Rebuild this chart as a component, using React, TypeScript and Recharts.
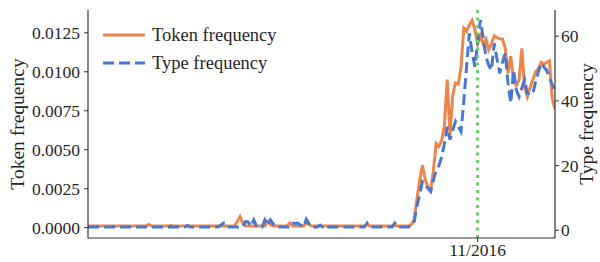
import React from "react";
import { LineChart, Line, XAxis, YAxis, ReferenceLine } from "recharts";

// ---- data ----
// weekly index positions (0..169)
const tokenFlat: number[] = [
  0.0001, 0.0001, 0.0001, 0.0001, 0.0001, 0.0001, 0.0001, 0.0001, 0.0001, 0.0001,
  0.0001, 0.0001, 0.0001, 0.0001, 0.0001, 0.0001, 0.0001, 0.0001, 0.0001, 0.0001,
  0.0001, 0.0001, 0.0002, 0.0001, 0.0001, 0.0001, 0.0001, 0.0001, 0.0001, 0.0001,
  0.00015, 0.0001, 0.0001, 0.0001, 0.0001, 0.0001, 0.0001, 0.0001, 0.0001, 0.0001,
  0.0001, 0.0001, 0.0001, 0.0001, 0.0001, 0.0001, 0.0001, 0.0001, 0.0001, 0.0001,
  0.0001, 0.0001, 0.0001, 0.0001, 0.0004, 0.0007, 0.0003, 0.0001, 0.0001, 0.0001,
  0.0001, 0.0001, 0.0001, 0.0001, 0.0001, 0.0004, 0.0002, 0.0001, 0.0001, 0.0001,
  0.0001, 0.0001, 0.0001, 0.0003, 0.0001, 0.0001, 0.0001, 0.0001, 0.0001, 0.0003,
  0.0002, 0.0001, 0.0001, 0.0001, 0.0001, 0.0001, 0.0001, 0.0001, 0.0001, 0.0001,
  0.0001, 0.0001, 0.0001, 0.0001, 0.0001, 0.0001, 0.0001, 0.0001, 0.0001, 0.0001,
  0.0001, 0.0002, 0.0001, 0.0001, 0.0001, 0.0001, 0.0001, 0.0001, 0.0001, 0.0001,
  0.0001, 0.00015, 0.0001, 0.0001, 0.0001, 0.0001, 0.0001, 0.0002,
];
const tokenActive: number[] = [
  0.0005, 0.0018, 0.0030, 0.0040, 0.0031, 0.0026, 0.0024, 0.0037, 0.0054, 0.0052,
  0.0056, 0.0066, 0.0095, 0.0059, 0.0085, 0.0093, 0.0092, 0.0103, 0.0128, 0.0126,
  0.0130, 0.0133, 0.0127, 0.0118, 0.0123, 0.0118, 0.0121, 0.0114, 0.0118, 0.0123,
  0.0122, 0.0121, 0.0121, 0.0115, 0.0099, 0.0110, 0.0095, 0.0091, 0.0095, 0.0115,
  0.0090, 0.0084, 0.0090, 0.0095, 0.0100, 0.0102, 0.0106, 0.0105, 0.0106, 0.0107,
  0.0083, 0.0076,
];
const typeFlat: number[] = [
  1, 1, 1, 1, 1, 1, 1, 1, 1, 1,
  1, 1, 1, 1, 1, 1, 1, 1, 1, 1,
  1, 1, 1, 1, 1, 1, 1, 1, 1, 1,
  1, 1, 1, 1, 1, 1, 1.5, 1, 1, 1,
  1, 1, 1, 1, 1, 1, 1, 1, 1.5, 2.2,
  2.2, 1, 1, 1, 1, 1, 1, 2.7, 2.5, 1.2,
  3.2, 1.2, 1, 1, 3.2, 1.5, 3.2, 2.0, 1, 1,
  1, 1, 1, 1, 2.2, 2.0, 2.2, 1.5, 1, 3.4,
  2.0, 1, 1, 1, 1.6, 1, 1.5, 1, 1, 1,
  1, 1, 1, 1, 1, 1, 1, 1, 1, 1,
  1, 2.2, 1, 1, 1, 1, 1, 1, 1, 1,
  1, 2.2, 1, 1, 1, 1, 1, 1.5,
];
const typeActive: number[] = [
  2.5, 7.3, 11, 15, 14, 13, 12, 15.5, 18.6, 20,
  22.7, 26.9, 32, 28, 31, 33.6, 32, 30.5, 40, 50.6,
  60.9, 55, 50.6, 58, 65, 59.7, 53.7, 51, 49.5, 57.8,
  53, 48.5, 52, 54.7, 45.4, 39.3, 49.5, 43.4, 41.3, 44,
  46.5, 42.3, 42, 42.3, 46, 49, 51.6, 50.5, 49.5, 47,
  45, 43.4,
];
const tokenFrequency: number[] = [...tokenFlat, ...tokenActive];
const typeFrequency: number[] = [...typeFlat, ...typeActive];

const xTickIndex: number[] = [141];
const xTickLabels: string[] = ["11/2016"];
const markerIndex = 141;
const leftTicks: number[] = [0, 0.0025, 0.005, 0.0075, 0.01, 0.0125];
const rightTicks: number[] = [0, 20, 40, 60];

const data = tokenFrequency.map((t, i) => ({ i, token: t, type: typeFrequency[i] }));

const FONT = "'Liberation Serif', 'Times New Roman', serif";
const TXT = "#262626";
const SPINE = "#333333";
const ORANGE = "#ee854a";
const BLUE = "#4878d0";
const GREEN = "#6acc64";

export default function App() {
  const tickStyle = { fontFamily: FONT, fontSize: 17.5, fill: TXT };
  const titleStyle: React.CSSProperties = {
    position: "absolute",
    top: 124,
    transform: "translate(-50%, -50%) rotate(-90deg)",
    fontFamily: FONT,
    fontSize: 19.5,
    color: TXT,
    whiteSpace: "nowrap",
  };
  return (
    <div style={{ position: "absolute", left: 0, top: 0, width: 600, height: 262 }}>
      <LineChart
        width={600}
        height={262}
        data={data}
        margin={{ top: 10, right: 0, bottom: 0, left: 0 }}
      >
        <XAxis
          dataKey="i"
          type="number"
          domain={[0, tokenFrequency.length - 1]}
          ticks={xTickIndex}
          tickFormatter={(v: number) => xTickLabels[xTickIndex.indexOf(v)] ?? ""}
          height={24}
          tickSize={4}
          tickMargin={2}
          tick={tickStyle}
          axisLine={{ stroke: SPINE, strokeWidth: 1.2 }}
          tickLine={{ stroke: SPINE }}
          allowDataOverflow
        />
        <XAxis
          xAxisId="top"
          orientation="top"
          type="number"
          dataKey="i"
          domain={[0, tokenFrequency.length - 1]}
          height={0}
          tick={false}
          tickLine={false}
          axisLine={{ stroke: SPINE, strokeWidth: 1.2 }}
        />
        <YAxis
          yAxisId="left"
          width={88}
          domain={[-0.000665, 0.013965]}
          ticks={leftTicks}
          tickFormatter={(v: number) => v.toFixed(4)}
          tickSize={4}
          tickMargin={4}
          tick={tickStyle}
          axisLine={{ stroke: SPINE, strokeWidth: 1.2 }}
          tickLine={{ stroke: SPINE }}
          allowDataOverflow
        />
        <YAxis
          yAxisId="right"
          orientation="right"
          width={45}
          domain={[-2.4, 68.1]}
          ticks={rightTicks}
          tickSize={4}
          tickMargin={2}
          tick={tickStyle}
          axisLine={{ stroke: SPINE, strokeWidth: 1.2 }}
          tickLine={{ stroke: SPINE }}
          allowDataOverflow
        />
        <Line
          yAxisId="left"
          type="linear"
          dataKey="token"
          stroke={ORANGE}
          strokeWidth={3}
          dot={false}
          isAnimationActive={false}
        />
        <Line
          yAxisId="right"
          type="linear"
          dataKey="type"
          stroke={BLUE}
          strokeWidth={3}
          strokeDasharray="11 5"
          dot={false}
          isAnimationActive={false}
        />
        <ReferenceLine
          yAxisId="left"
          x={markerIndex}
          stroke={GREEN}
          strokeWidth={3}
          strokeDasharray="3 4.5"
        />
      </LineChart>
      {/* axis titles */}
      <div style={{ ...titleStyle, left: 18 }}>Token frequency</div>
      <div style={{ ...titleStyle, left: 587 }}>Type frequency</div>
      {/* legend */}
      <div style={{ position: "absolute", left: 103, top: 21, fontFamily: FONT, fontSize: 18.5, color: TXT }}>
        {[
          { label: "Token frequency", color: ORANGE, dash: undefined as string | undefined },
          { label: "Type frequency", color: BLUE, dash: "11 5" },
        ].map((e, k) => (
          <div key={k} style={{ display: "flex", alignItems: "center", height: 28 }}>
            <svg width={42} height={10} style={{ marginRight: 7 }}>
              <line x1={0} y1={5} x2={42} y2={5} stroke={e.color} strokeWidth={3} strokeDasharray={e.dash} />
            </svg>
            <span>{e.label}</span>
          </div>
        ))}
      </div>
    </div>
  );
}
